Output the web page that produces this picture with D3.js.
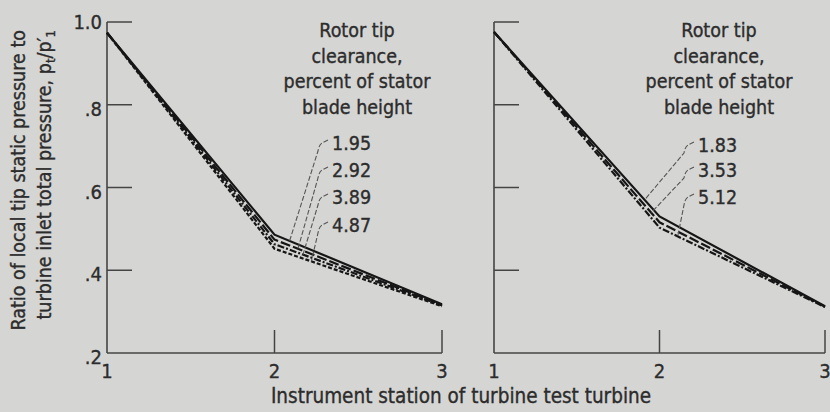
<!DOCTYPE html>
<html>
<head>
<meta charset="utf-8">
<script src="https://cdn.jsdelivr.net/npm/d3@7"></script>
<style>
  html, body { margin: 0; padding: 0; background: #d5d5d3; }
  svg { display: block; }
  text { font-family: "DejaVu Sans Condensed", "DejaVu Sans", sans-serif; fill: #2c2c2c;
         stroke: #2c2c2c; stroke-width: 0.35px; }
</style>
</head>
<body>
<svg id="chart" width="830" height="412"></svg>
<script>
// instrument stations along the turbine
var stations = [1, 2, 3];
var stationTicks = [1, 2, 3];
var ratioTicks = [0.2, 0.4, 0.6, 0.8, 1.0];
var ratioTickLabels = ['.2', '.4', '.6', '.8', '1.0'];

// left panel: rotor tip clearance, percent of stator blade height
var leftClearance = ['1.95', '2.92', '3.89', '4.87'];
var left195 = [0.974, 0.486, 0.318];
var left292 = [0.974, 0.474, 0.316];
var left389 = [0.974, 0.463, 0.315];
var left487 = [0.974, 0.452, 0.313];
var leftPointAt = [2.09, 2.14, 2.17, 2.22];

// right panel
var rightClearance = ['1.83', '3.53', '5.12'];
var right183 = [0.976, 0.530, 0.313];
var right353 = [0.976, 0.516, 0.312];
var right512 = [0.976, 0.503, 0.311];
var rightPointAt = [1.91, 1.95, 2.11];

var dashes = ['none', '10,3', '7,2,2,2', '4,2'];

var svg = d3.select('#chart');
var y = d3.scaleLinear().domain([0.2, 1.0]).range([353, 22]);

function interp(vals, s) {
  var i = s < 2 ? 0 : 1;
  var t = s - stations[i];
  return vals[i] + (vals[i + 1] - vals[i]) * t;
}

function panel(x0, x1, series, labels, pointAt, titleX, labelX, labelYs, showY) {
  var x = d3.scaleLinear().domain([1, 3]).range([x0, x1]);
  var g = svg.append('g');

  // axes frame: left + bottom, inward ticks
  g.append('line').attr('x1', x(1)).attr('x2', x(1)).attr('y1', y(1.0)).attr('y2', y(0.2))
    .attr('stroke', '#444').attr('stroke-width', 1.6);
  g.append('line').attr('x1', x(1)).attr('x2', x(3)).attr('y1', y(0.2)).attr('y2', y(0.2))
    .attr('stroke', '#444').attr('stroke-width', 1.6);

  g.selectAll('.yt').data(ratioTicks.slice(1)).enter().append('line')
    .attr('x1', x(1)).attr('x2', x(1) + 25)
    .attr('y1', function (d) { return y(d); }).attr('y2', function (d) { return y(d); })
    .attr('stroke', '#444').attr('stroke-width', 1.5);

  g.selectAll('.xt').data(stationTicks.slice(1)).enter().append('line')
    .attr('x1', function (d) { return x(d); }).attr('x2', function (d) { return x(d); })
    .attr('y1', y(0.2)).attr('y2', y(0.2) - 23)
    .attr('stroke', '#444').attr('stroke-width', 1.5);

  g.selectAll('.xl').data(stationTicks).enter().append('text')
    .attr('x', function (d) { return x(d); }).attr('y', 378)
    .attr('text-anchor', 'middle').style('font-size', '20px')
    .text(function (d) { return d; });

  if (showY) {
    g.selectAll('.yl').data(ratioTicks).enter().append('text')
      .attr('x', x(1) - 5).attr('y', function (d, i) { return y(d) + (i === 4 ? 7 : 11); })
      .attr('text-anchor', 'end').style('font-size', '20px')
      .text(function (d, i) { return ratioTickLabels[i]; });
  }

  var line = d3.line().x(function (d, i) { return x(stations[i]); }).y(function (d) { return y(d); });
  g.selectAll('.curve').data(series).enter().append('path')
    .attr('d', function (d) { return line(d); })
    .attr('fill', 'none').attr('stroke', '#161616').attr('stroke-width', 2.2)
    .attr('stroke-dasharray', function (d, i) { return dashes[i]; });

  // legend title
  var title = ['Rotor tip', 'clearance,', 'percent of stator', 'blade height'];
  g.selectAll('.lt').data(title).enter().append('text')
    .attr('x', titleX).attr('y', function (d, i) { return 37 + i * 25.7; })
    .attr('text-anchor', 'middle').style('font-size', '19.5px')
    .text(function (d) { return d; });

  // leaders and values
  labels.forEach(function (lab, i) {
    var ly = labelYs[i];
    var tx = x(pointAt[i]), ty = y(interp(series[i], pointAt[i]));
    g.append('path')
      .attr('d', 'M' + (labelX - 4) + ',' + (ly - 10) + ' L' + (labelX - 10) + ',' + (ly - 7) +
        ' Q' + (labelX - 13) + ',' + (ly - 5) + ' ' + (labelX - 14) + ',' + (ly + 1) + ' L' + tx + ',' + ty)
      .attr('fill', 'none').attr('stroke', '#555').attr('stroke-width', 1.1)
      .attr('stroke-dasharray', '5,2');
    g.append('text').attr('x', labelX).attr('y', ly)
      .style('font-size', '19.5px').text(lab);
  });
}

panel(107, 442, [left195, left292, left389, left487], leftClearance, leftPointAt,
  357, 332, [150, 177, 204, 232], true);
panel(494, 825, [right183, right353, right512], rightClearance, rightPointAt,
  719, 698, [152, 177, 204], false);

// axis titles
svg.append('text').attr('x', 461).attr('y', 403).attr('text-anchor', 'middle')
  .style('font-size', '20.5px').text('Instrument station of turbine test turbine');

var yt = svg.append('g');
yt.append('text').attr('transform', 'translate(25,30) rotate(-90)').attr('text-anchor', 'end')
  .style('font-size', '19.5px').text('Ratio of local tip static pressure to');
var t2 = yt.append('text').attr('transform', 'translate(51,30) rotate(-90)').attr('text-anchor', 'end')
  .style('font-size', '19.5px');
t2.append('tspan').text('turbine inlet total pressure, p');
t2.append('tspan').attr('dy', 4).style('font-size', '13px').text('t');
t2.append('tspan').attr('dy', -4).text('/p\u2032');
t2.append('tspan').attr('dy', 4).style('font-size', '13px').text('1');
</script>
</body>
</html>
